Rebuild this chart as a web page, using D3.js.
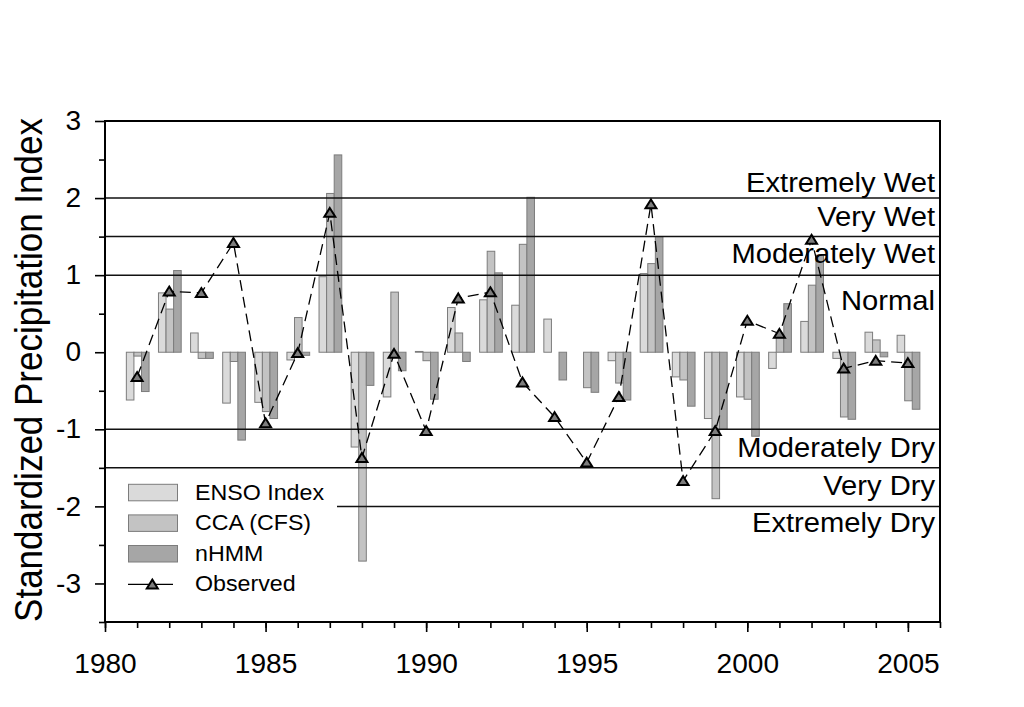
<!DOCTYPE html>
<html>
<head>
<meta charset="utf-8">
<script src="https://cdn.jsdelivr.net/npm/d3@7"></script>
<style>
  html, body { margin: 0; padding: 0; background: #ffffff; }
  svg { display: block; font-family: "Liberation Sans", Arial, sans-serif; }
</style>
</head>
<body>
<svg id="chart" width="1024" height="707"></svg>
<script>
// Forecast skill of three predictors against observed SPI, 1981-2005
const years = [1981, 1982, 1983, 1984, 1985, 1986, 1987, 1988, 1989, 1990,
               1991, 1992, 1993, 1994, 1995, 1996, 1997, 1998, 1999, 2000,
               2001, 2002, 2003, 2004, 2005];
const ensoIndex = [-0.62, 0.77, 0.25, -0.66, -0.65, -0.10, 0.98, -1.23, -0.58, 0.01,
                   0.58, 0.68, 0.61, 0.43, 0.00, -0.11, 1.02, -0.32, -0.86, -0.58,
                   -0.21, 0.40, -0.08, 0.26, 0.22];
const ccaCfs = [-0.05, 0.56, -0.08, -0.12, -0.77, 0.45, 2.06, -2.71, 0.78, -0.11,
                0.25, 1.31, 1.40, 0.00, -0.46, -0.40, 1.15, -0.36, -1.90, -0.61,
                0.19, 0.87, -0.84, 0.16, -0.63];
const nhmm = [-0.51, 1.06, -0.08, -1.14, -0.86, -0.04, 2.56, -0.43, -0.24, -0.61,
              -0.12, 1.03, 2.01, -0.36, -0.52, -0.62, 1.50, -0.70, -1.00, -1.09,
              0.63, 1.26, -0.87, -0.06, -0.74];
const observed = [-0.32, 0.79, 0.77, 1.42, -0.92, -0.01, 1.81, -1.37, -0.02, -1.02,
                  0.70, 0.78, -0.39, -0.84, -1.43, -0.58, 1.92, -1.67, -1.02, 0.41,
                  0.24, 1.46, -0.21, -0.11, -0.14];

const xMajorTicks = [1980, 1985, 1990, 1995, 2000, 2005];
const xMinorTicks = [1980, 1981, 1982, 1983, 1984, 1985, 1986, 1987, 1988, 1989, 1990,
                     1991, 1992, 1993, 1994, 1995, 1996, 1997, 1998, 1999, 2000,
                     2001, 2002, 2003, 2004, 2005, 2006];
const yMajorTicks = [-3, -2, -1, 0, 1, 2, 3];
const yMinorTicks = [-3.5, -2.5, -1.5, -0.5, 0.5, 1.5, 2.5];

// SPI class boundaries and the class names written beside them
const classBreaks = [2, 1.5, 1, -1, -1.5, -2];
const classNames = ["Extremely Wet", "Very Wet", "Moderately Wet", "Normal",
                    "Moderately Dry", "Very Dry", "Extremely Dry"];
const seriesNames = ["ENSO Index", "CCA (CFS)", "nHMM", "Observed"];
const yTitle = "Standardized Precipitation Index";

const svg = d3.select("#chart");
const L = 105, R = 940, T = 121, B = 622;

const x = d3.scaleLinear().domain([1980, 2006]).range([L, R]);
const y = d3.scaleLinear().domain([-3.5, 3]).range([B, T]);

// widen glyphs horizontally by a factor k
function stretch(sel, k) {
  sel.each(function () {
    const w = this.getComputedTextLength();
    this.setAttribute("textLength", w * k);
    this.setAttribute("lengthAdjust", "spacingAndGlyphs");
  });
}

const barSeries = [
  { values: ensoIndex, fill: "#dadada" },
  { values: ccaCfs, fill: "#c3c3c3" },
  { values: nhmm, fill: "#a6a6a6" }
];
const barW = x(1980.236) - x(1980);

// grouped bars
barSeries.forEach((s, i) => {
  svg.append("g").selectAll("rect")
    .data(years.map((yr, j) => ({ yr, v: s.values[j] })))
    .join("rect")
    .attr("x", d => x(d.yr) + 0.6 + (i - 1.5) * barW)
    .attr("y", d => y(Math.max(0, d.v)))
    .attr("width", barW)
    .attr("height", d => Math.abs(y(d.v) - y(0)))
    .attr("fill", s.fill)
    .attr("stroke", "#7c7c7c")
    .attr("stroke-width", 1);
});

// class boundary lines
svg.append("g").selectAll("line")
  .data(classBreaks)
  .join("line")
  .attr("x1", L).attr("x2", R)
  .attr("y1", d => y(d)).attr("y2", d => y(d))
  .attr("stroke", "#111")
  .attr("stroke-width", 1.5);

// class names, right-aligned inside the frame
const nameAnchor = [
  { b: 2, dy: -6.5 }, { b: 1.5, dy: -10.5 }, { b: 1, dy: -12 }, { b: 1, dy: 35 },
  { b: -1.5, dy: -10.5 }, { b: -2, dy: -11.5 }, { b: -2, dy: 26 }
];
const names = svg.append("g").selectAll("text")
  .data(classNames)
  .join("text")
  .attr("x", R - 5)
  .attr("y", (d, i) => y(nameAnchor[i].b) + nameAnchor[i].dy)
  .attr("text-anchor", "end")
  .attr("font-size", 27.5)
  .attr("fill", "#000")
  .text(d => d);
stretch(names, 1.06);

// observed series: dashed line with triangle markers
const line = d3.line().x((d, j) => x(years[j])).y(d => y(d));
svg.append("path")
  .datum(observed)
  .attr("d", line)
  .attr("fill", "none")
  .attr("stroke", "#000")
  .attr("stroke-width", 1.3)
  .attr("stroke-dasharray", "11,6");

const tri = "M0,-4.8L5.5,4.1L-5.5,4.1Z";
svg.append("g").selectAll("path")
  .data(observed)
  .join("path")
  .attr("d", tri)
  .attr("transform", (d, j) => `translate(${x(years[j])},${y(d)})`)
  .attr("fill", "#7d7d7d")
  .attr("stroke", "#000")
  .attr("stroke-width", 2);

// legend
const lg = svg.append("g");
lg.append("rect")
  .attr("x", L + 1).attr("y", 470).attr("width", 231).attr("height", 140)
  .attr("fill", "#fff");
const rowH = 30.6;
barSeries.forEach((s, i) => {
  lg.append("rect")
    .attr("x", 128.5).attr("y", 484.3 + i * rowH)
    .attr("width", 49).attr("height", 16.5)
    .attr("fill", s.fill).attr("stroke", "#7c7c7c").attr("stroke-width", 1);
});
const obsY = 484.3 + 3 * rowH + 8.3;
lg.append("line")
  .attr("x1", 128).attr("x2", 173).attr("y1", obsY).attr("y2", obsY)
  .attr("stroke", "#000").attr("stroke-width", 1.3);
lg.append("path")
  .attr("d", tri)
  .attr("transform", `translate(152.3,${obsY})`)
  .attr("fill", "#7d7d7d").attr("stroke", "#000").attr("stroke-width", 2);
const lgText = lg.selectAll("text.lt")
  .data(seriesNames)
  .join("text")
  .attr("class", "lt")
  .attr("x", 195)
  .attr("y", (d, i) => 499.5 + i * rowH)
  .attr("font-size", 21.5)
  .attr("fill", "#000")
  .text(d => d);
stretch(lgText, 1.08);

// frame
svg.append("rect")
  .attr("x", L).attr("y", T).attr("width", R - L).attr("height", B - T)
  .attr("fill", "none").attr("stroke", "#000").attr("stroke-width", 2);

// axes
const xMinor = svg.append("g").attr("transform", `translate(0,${B})`)
  .call(d3.axisBottom(x).tickValues(xMinorTicks).tickSize(6).tickFormat(""));
const xMajor = svg.append("g").attr("transform", `translate(0,${B})`)
  .call(d3.axisBottom(x).tickValues(xMajorTicks).tickSize(10).tickPadding(22)
    .tickFormat(d3.format("d")));
const yMinor = svg.append("g").attr("transform", `translate(${L},0)`)
  .call(d3.axisLeft(y).tickValues(yMinorTicks).tickSize(6).tickFormat(""));
const yMajor = svg.append("g").attr("transform", `translate(${L},0)`)
  .call(d3.axisLeft(y).tickValues(yMajorTicks).tickSize(10).tickPadding(14)
    .tickFormat(d3.format("d")));

[xMinor, xMajor, yMinor, yMajor].forEach(g => {
  g.select(".domain").remove();
  g.selectAll(".tick line").attr("stroke", "#000").attr("stroke-width", 1.6);
  g.selectAll(".tick text")
    .attr("font-family", "Liberation Sans, Arial, sans-serif")
    .attr("font-size", 27)
    .attr("fill", "#000");
});
yMajor.selectAll(".tick text").text(d => d < 0 ? "-" + Math.abs(d) : String(d));
stretch(xMajor.selectAll(".tick text"), 1.04);
stretch(yMajor.selectAll(".tick text"), 1.04);

// y-axis title
const yt = svg.append("text")
  .attr("transform", "translate(42,370) rotate(-90)")
  .attr("text-anchor", "middle")
  .attr("font-size", 38)
  .attr("fill", "#000")
  .text(yTitle);
stretch(yt, 0.921);
</script>
</body>
</html>
